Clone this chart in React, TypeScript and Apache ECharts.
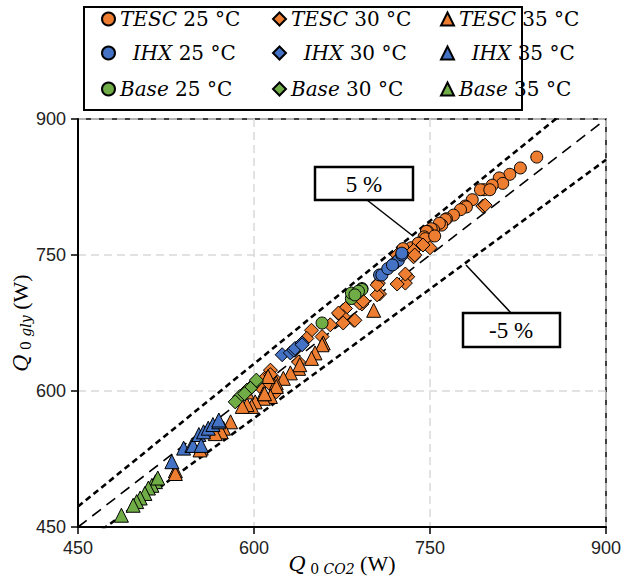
import React, { useEffect, useRef } from "react";
import * as echarts from "echarts";

// ---- data (W) ----
const tesc25: number[][] = [
  [841, 858], [827, 846], [818, 839], [809, 835], [812, 829], [803, 827], [796, 822], [793, 822],
  [801, 822], [786, 811], [780, 804], [781, 803], [776, 800], [770, 794], [764, 790], [763, 789],
  [760, 783], [758, 785], [753, 778], [751, 779], [748, 776], [747, 776], [745, 770], [746, 768],
  [754, 771], [734, 758], [727, 757], [740, 763],
];
const tesc30: number[][] = [
  [795, 804], [797, 805], [750, 758], [736, 751], [736, 755], [736, 748], [744, 761], [731, 726],
  [729, 719], [729, 729], [722, 718], [722, 750], [737, 750], [707, 707], [706, 719], [705, 706],
  [705, 717], [692, 696], [690, 697], [693, 699], [685, 678], [686, 678], [676, 689], [673, 684],
  [678, 691], [676, 682], [672, 686], [676, 675], [665, 673], [658, 660], [649, 667], [645, 658],
  [635, 645], [638, 632], [614, 623], [609, 614], [605, 605], [614, 607], [619, 599], [614, 618],
  [620, 610],
];
const tesc35: number[][] = [
  [702, 689], [659, 653], [658, 651], [652, 642], [649, 636], [638, 625], [639, 629], [631, 620],
  [625, 614], [619, 609], [619, 605], [612, 616], [614, 594], [608, 592], [608, 597], [601, 588],
  [598, 583], [594, 585], [594, 599], [590, 583], [580, 566], [574, 559], [572, 555], [567, 553],
  [555, 537], [554, 535], [533, 512], [533, 509], [609, 597],
];
const ihx25: number[][] = [
  [707, 728], [709, 728], [714, 735], [720, 741], [723, 744], [726, 750], [726, 752], [718, 739],
];
const ihx30: number[][] = [
  [624, 640], [631, 642], [634, 645], [635, 647], [641, 653], [641, 651],
];
const ihx35: number[][] = [
  [530, 522], [540, 537], [547, 540], [548, 540], [553, 552], [555, 540], [557, 555], [561, 559],
  [565, 563], [570, 566], [570, 568],
];
const base25: number[][] = [
  [658, 675], [683, 702], [683, 708], [688, 708], [692, 713], [692, 712], [689, 710], [686, 706],
];
const base30: number[][] = [
  [602, 610], [598, 605], [594, 601], [591, 597], [588, 594], [584, 588], [597, 603], [592, 597],
  [602, 612],
];
const base35: number[][] = [
  [516, 500], [513, 496], [510, 493], [507, 487], [503, 482], [500, 478], [497, 474], [487, 463],
  [518, 504],
];

const axisMin = 450;
const axisMax = 900;
const axisStep = 150;
const refFactors = [1.05, 1.0, 0.95];
const refLabels = ["5 %", "-5 %"];

const ORANGE = "#ED7D31";
const BLUE = "#4472C4";
const GREEN = "#70AD47";

const seriesDefs = [
  { name: "TESC 25 °C", tag: "TESC", temp: "25 °C", data: tesc25, color: ORANGE, symbol: "circle", size: 12 },
  { name: "TESC 30 °C", tag: "TESC", temp: "30 °C", data: tesc30, color: ORANGE, symbol: "diamond", size: 14 },
  { name: "TESC 35 °C", tag: "TESC", temp: "35 °C", data: tesc35, color: ORANGE, symbol: "triangle", size: 14 },
  { name: "IHX 25 °C", tag: "IHX", temp: "25 °C", data: ihx25, color: BLUE, symbol: "circle", size: 12 },
  { name: "IHX 30 °C", tag: "IHX", temp: "30 °C", data: ihx30, color: BLUE, symbol: "diamond", size: 14 },
  { name: "IHX 35 °C", tag: "IHX", temp: "35 °C", data: ihx35, color: BLUE, symbol: "triangle", size: 14 },
  { name: "Base 25 °C", tag: "Base", temp: "25 °C", data: base25, color: GREEN, symbol: "circle", size: 12 },
  { name: "Base 30 °C", tag: "Base", temp: "30 °C", data: base30, color: GREEN, symbol: "diamond", size: 14 },
  { name: "Base 35 °C", tag: "Base", temp: "35 °C", data: base35, color: GREEN, symbol: "triangle", size: 14 },
];

const legendCols = [101, 272, 440];
const legendRows = [9, 43, 79];
const NB = "\u00a0";

export default function App() {
  const ref = useRef<HTMLDivElement>(null);
  useEffect(() => {
    if (!ref.current) return;
    const chart = echarts.init(ref.current, null, { renderer: "svg" });

    const scatter = seriesDefs.map((s) => ({
      type: "scatter",
      name: s.name,
      data: s.data,
      symbol: s.symbol,
      symbolSize: s.size,
      itemStyle: { color: s.color, borderColor: "#000", borderWidth: 1, opacity: 1 },
      z: 3,
    }));

    const refSeries = refFactors.map((k) => ({
      type: "line",
      name: "ref" + k,
      data: [
        [axisMin, axisMin * k],
        [axisMax, axisMax * k],
      ],
      symbol: "none",
      silent: true,
      clip: true,
      z: 2,
      lineStyle:
        k === 1
          ? { color: "#000", width: 1.6, type: [11, 7] }
          : { color: "#000", width: 2.6, type: [6, 4] },
    }));

    const legends = seriesDefs.map((s, i) => ({
      data: [s.name],
      left: legendCols[i % 3],
      top: legendRows[Math.floor(i / 3)],
      itemWidth: 13,
      itemHeight: 13,
      itemGap: 0,
      padding: 0,
      selectedMode: false,
      formatter: () =>
        s.tag === "IHX"
          ? `{n|${NB}${NB}}{i|${s.tag}}{n|${NB}${s.temp}}`
          : `{i|${s.tag}}{n|${NB}${s.temp}}`,
      textStyle: {
        rich: {
          i: { fontFamily: "DejaVu Serif", fontStyle: "italic", fontSize: 20, color: "#000" },
          n: { fontFamily: "DejaVu Serif", fontSize: 20, color: "#000" },
        },
      },
    }));

    const axisNameRich = {
      q: { fontFamily: "DejaVu Serif", fontStyle: "italic", fontSize: 21, color: "#000", lineHeight: 25, verticalAlign: "middle" },
      z: { fontFamily: "DejaVu Serif", fontSize: 14, color: "#000", lineHeight: 14, verticalAlign: "bottom" },
      s: { fontFamily: "DejaVu Serif", fontStyle: "italic", fontSize: 14, color: "#000", lineHeight: 14, verticalAlign: "bottom" },
      w: { fontFamily: "Liberation Serif", fontSize: 22, color: "#000", lineHeight: 25, verticalAlign: "middle" },
    };

    const labelStyle = { fontFamily: "Liberation Sans", fontSize: 18, color: "#222" };

    chart.setOption({
      animation: false,
      backgroundColor: "#fff",
      grid: {
        left: 78, right: 23, top: 119, bottom: 54,
        show: true, borderColor: "#000", borderWidth: 1.5,
        containLabel: false, outerBoundsMode: "none",
      },
      xAxis: {
        type: "value",
        min: axisMin,
        max: axisMax,
        interval: axisStep,
        name: `{q|Q}{z|${NB}0${NB}}{s|CO2}{w|${NB}(W)}`,
        nameLocation: "middle",
        nameGap: 24,
        nameMoveOverlap: false,
        nameTextStyle: { rich: axisNameRich },
        axisLine: { show: true, lineStyle: { color: "#000", width: 2 } },
        axisTick: { show: true, length: 7, lineStyle: { color: "#000", width: 1.5 } },
        axisLabel: { ...labelStyle, margin: 12 },
        splitLine: { show: true, lineStyle: { color: "#d9d9d9", width: 1.5, type: [8, 5] } },
      },
      yAxis: {
        type: "value",
        min: axisMin,
        max: axisMax,
        interval: axisStep,
        name: `{q|Q}{z|${NB}0${NB}}{s|gly}{w|${NB}(W)}`,
        nameLocation: "middle",
        nameGap: 45,
        nameMoveOverlap: false,
        nameTextStyle: { rich: axisNameRich },
        axisLine: { show: true, lineStyle: { color: "#000", width: 2 } },
        axisTick: { show: true, length: 7, lineStyle: { color: "#000", width: 1.5 } },
        axisLabel: { ...labelStyle, margin: 12 },
        splitLine: { show: true, lineStyle: { color: "#d9d9d9", width: 1.5, type: [8, 5] } },
      },
      legend: legends,
      series: [...refSeries, ...scatter],
      graphic: [
        {
          type: "rect",
          shape: { x: 84, y: 7, width: 438, height: 103 },
          style: { fill: "none", stroke: "#000", lineWidth: 2 },
          z: 0,
        },
        // 5 % annotation
        { type: "line", shape: { x1: 367, y1: 200, x2: 413, y2: 236 }, style: { stroke: "#000", lineWidth: 1.5 }, z: 10 },
        {
          type: "rect",
          shape: { x: 315, y: 167, width: 98, height: 33 },
          style: { fill: "#fff", stroke: "#000", lineWidth: 2.5 },
          z: 10,
        },
        {
          type: "text",
          x: 364,
          y: 184,
          style: { text: refLabels[0], fontFamily: "Liberation Serif", fontSize: 23, fill: "#000", align: "center", verticalAlign: "middle" },
          z: 11,
        },
        // -5 % annotation
        { type: "line", shape: { x1: 511, y1: 313, x2: 466, y2: 265 }, style: { stroke: "#000", lineWidth: 1.5 }, z: 10 },
        {
          type: "rect",
          shape: { x: 463, y: 313, width: 97, height: 34 },
          style: { fill: "#fff", stroke: "#000", lineWidth: 2.5 },
          z: 10,
        },
        {
          type: "text",
          x: 511,
          y: 330,
          style: { text: refLabels[1], fontFamily: "Liberation Serif", fontSize: 23, fill: "#000", align: "center", verticalAlign: "middle" },
          z: 11,
        },
      ],
    });
    return () => chart.dispose();
  }, []);
  return <div ref={ref} style={{ position: "fixed", left: 0, top: 0, width: 629, height: 581 }} />;
}
